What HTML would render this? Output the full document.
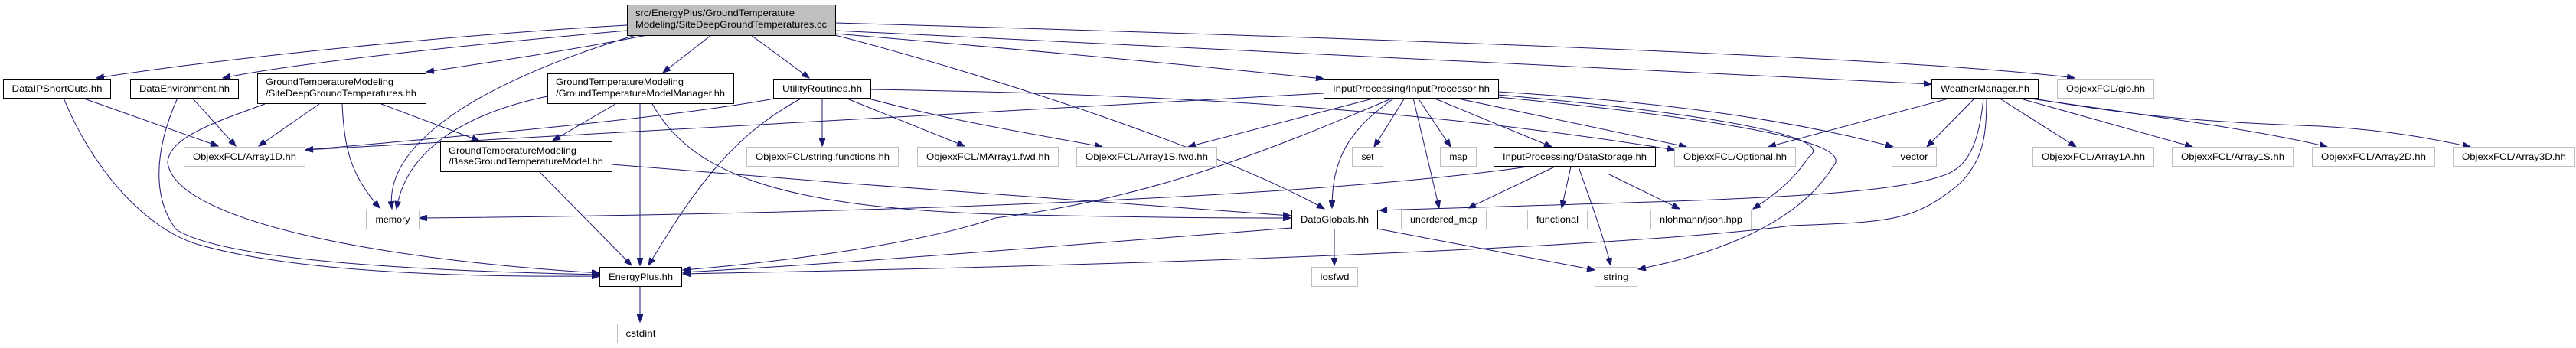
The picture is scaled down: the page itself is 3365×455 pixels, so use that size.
<!DOCTYPE html>
<html><head><meta charset="utf-8"><style>
html,body{margin:0;padding:0;background:#fff;}
svg{display:block;}
text{font-family:"Liberation Sans",Helvetica,sans-serif;font-size:12px;fill:#000;}
.n{fill:#fff;stroke:#000;stroke-width:1;}
.g{fill:#fff;stroke:#bfbfbf;stroke-width:1;}
.e{fill:none;stroke:#191970;stroke-width:1;}
</style></head><body>
<svg width="3365" height="455" viewBox="0 0 3365 455" xmlns="http://www.w3.org/2000/svg">
<defs>
<marker id="a" markerWidth="11" markerHeight="8" refX="10" refY="4" orient="auto" markerUnits="userSpaceOnUse">
<path d="M0,0 L10,4 L0,8 Z" fill="#191970" stroke="#191970"/>
</marker>
</defs>
<g class="e" marker-end="url(#a)">
<!-- root -->
<path d="M819,33 C600,45 300,75 126,102"/>
<path d="M819,40 C650,55 400,80 291,102"/>
<path d="M845,46 C750,65 650,80 557,94"/>
<path d="M830,46 C650,100 500,180 512,273"/>
<path d="M929,46 L866,95"/>
<path d="M981,46 L1057,102"/>
<path d="M1091,44 C1400,70 1600,90 1729,103"/>
<path d="M1091,40 C1700,70 2300,100 2523,110"/>
<path d="M1091,30 C1800,50 2500,75 2710,102"/>
<path d="M1091,46 C1300,100 1600,200 1730,273"/>
<!-- DataIPShortCuts -->
<path d="M107,128 L285,191"/>
<path d="M83,128 C120,220 190,300 260,320 C400,360 650,362 783,361"/>
<!-- DataEnvironment -->
<path d="M251,128 L308,191"/>
<path d="M232,128 C200,200 200,260 230,300 C300,345 600,355 783,359"/>
<!-- SiteDeep.hh -->
<path d="M417,136 L338,191"/>
<path d="M447,136 C450,200 460,230 496,272"/>
<path d="M498,136 L626,184"/>
<path d="M346,136 C280,160 220,180 219,213 C230,290 500,340 783,357"/>
<!-- GTMManager -->
<path d="M804,136 L722,184"/>
<path d="M836,136 L836,347"/>
<path d="M715,126 C600,150 530,200 518,273"/>
<path d="M852,136 C900,220 1000,270 1300,280 C1500,285 1650,285 1686,285"/>
<!-- Base -->
<path d="M704,224 L825,347"/>
<path d="M799,215 C1100,240 1500,270 1686,282"/>
<!-- Utility -->
<path d="M1017,128 C900,150 700,170 399,196"/>
<path d="M1048,128 C950,180 900,260 847,347"/>
<path d="M1074,128 L1074,191"/>
<path d="M1104,128 L1260,191"/>
<path d="M1131,128 C1250,160 1350,175 1440,192"/>
<path d="M1137,117 C1600,124 1900,150 2188,196"/>
<!-- InputProcessor -->
<path d="M1729,122 C1400,137 1000,160 399,196"/>
<path d="M1797,128 L1552,192"/>
<path d="M1820,128 C1650,200 1500,260 1300,285 C1200,320 1000,345 892,353"/>
<path d="M1822,128 C1760,170 1740,210 1740,272"/>
<path d="M1835,128 L1795,192"/>
<path d="M1846,128 L1880,272"/>
<path d="M1852,128 L1895,192"/>
<path d="M1872,128 L2027,192"/>
<path d="M1900,128 L2203,192"/>
<path d="M1957,120 C2200,135 2350,160 2473,192"/>
<path d="M1957,124 C2250,150 2400,180 2363,205 C2340,240 2310,260 2290,273"/>
<path d="M1957,127 C2300,160 2420,190 2395,217 C2350,290 2250,330 2140,352"/>
<!-- DataStorage -->
<path d="M1996,218 C1700,260 1100,280 548,285"/>
<path d="M2031,218 L1918,272"/>
<path d="M2052,218 L2040,272"/>
<path d="M2062,218 C2080,270 2095,310 2104,347"/>
<path d="M2100,227 L2194,273"/>
<!-- DataGlobals -->
<path d="M1687,298 C1400,320 1100,345 892,356"/>
<path d="M1743,299 L1743,347"/>
<path d="M1799,299 L2083,353"/>
<!-- WeatherManager -->
<path d="M2549,128 L2310,192"/>
<path d="M2580,128 L2517,192"/>
<path d="M2591,128 C2585,190 2570,220 2537,230 C2450,260 2200,262 1802,275"/>
<path d="M2595,128 C2595,180 2590,210 2560,240 C2500,290 2470,290 2340,295 C2150,320 1600,345 892,358"/>
<path d="M2611,128 L2712,192"/>
<path d="M2636,128 L2864,192"/>
<path d="M2638,127 C2800,150 2950,170 3040,192"/>
<path d="M2640,126 C2800,155 2900,160 3030,165 C3120,170 3180,182 3227,192"/>
<!-- EnergyPlus -->
<path d="M836,374 L836,421"/>
</g>
<!-- nodes -->
<rect x="819.5" y="6.5" width="272" height="40" fill="#bfbfbf" stroke="#000"/>
<text x="830" y="21" textLength="208" lengthAdjust="spacingAndGlyphs">src/EnergyPlus/GroundTemperature</text>
<text x="830" y="36" textLength="250" lengthAdjust="spacingAndGlyphs">Modeling/SiteDeepGroundTemperatures.cc</text>

<rect class="n" x="4.5" y="103.5" width="140" height="25"/>
<text x="74.5" y="120" text-anchor="middle" textLength="118" lengthAdjust="spacingAndGlyphs">DataIPShortCuts.hh</text>
<rect class="n" x="170.5" y="103.5" width="141" height="25"/>
<text x="241" y="120" text-anchor="middle" textLength="118" lengthAdjust="spacingAndGlyphs">DataEnvironment.hh</text>

<rect class="n" x="336.5" y="96.5" width="220" height="39"/>
<text x="347" y="111" textLength="167" lengthAdjust="spacingAndGlyphs">GroundTemperatureModeling</text>
<text x="347" y="126" textLength="197" lengthAdjust="spacingAndGlyphs">/SiteDeepGroundTemperatures.hh</text>

<rect class="n" x="715.5" y="96.5" width="243" height="39"/>
<text x="726" y="111" textLength="167" lengthAdjust="spacingAndGlyphs">GroundTemperatureModeling</text>
<text x="726" y="126" textLength="221" lengthAdjust="spacingAndGlyphs">/GroundTemperatureModelManager.hh</text>

<rect class="n" x="1010.5" y="103.5" width="127" height="25"/>
<text x="1074" y="120" text-anchor="middle" textLength="104" lengthAdjust="spacingAndGlyphs">UtilityRoutines.hh</text>

<rect class="n" x="1729.5" y="103.5" width="228" height="25"/>
<text x="1843.5" y="120" text-anchor="middle" textLength="205" lengthAdjust="spacingAndGlyphs">InputProcessing/InputProcessor.hh</text>

<rect class="n" x="2523.5" y="103.5" width="139" height="25"/>
<text x="2593" y="120" text-anchor="middle" textLength="116" lengthAdjust="spacingAndGlyphs">WeatherManager.hh</text>

<rect class="g" x="2687.5" y="103.5" width="126" height="25"/>
<text x="2750.5" y="120" text-anchor="middle" textLength="103" lengthAdjust="spacingAndGlyphs">ObjexxFCL/gio.hh</text>

<!-- row 2 -->
<rect class="g" x="240.5" y="192.5" width="158" height="25"/>
<text x="319.5" y="209" text-anchor="middle" textLength="135" lengthAdjust="spacingAndGlyphs">ObjexxFCL/Array1D.hh</text>

<rect class="n" x="575.5" y="185.5" width="224" height="39"/>
<text x="586" y="201" textLength="167" lengthAdjust="spacingAndGlyphs">GroundTemperatureModeling</text>
<text x="586" y="215" textLength="202" lengthAdjust="spacingAndGlyphs">/BaseGroundTemperatureModel.hh</text>

<rect class="g" x="975.5" y="192.5" width="198" height="25"/>
<text x="1074.5" y="209" text-anchor="middle" textLength="175" lengthAdjust="spacingAndGlyphs">ObjexxFCL/string.functions.hh</text>
<rect class="g" x="1198.5" y="192.5" width="184" height="25"/>
<text x="1290.5" y="209" text-anchor="middle" textLength="161" lengthAdjust="spacingAndGlyphs">ObjexxFCL/MArray1.fwd.hh</text>
<rect class="g" x="1406.5" y="192.5" width="183" height="25"/>
<text x="1498" y="209" text-anchor="middle" textLength="160" lengthAdjust="spacingAndGlyphs">ObjexxFCL/Array1S.fwd.hh</text>
<rect class="g" x="1766.5" y="192.5" width="40" height="25"/>
<text x="1786.5" y="209" text-anchor="middle">set</text>
<rect class="g" x="1881.5" y="192.5" width="47" height="25"/>
<text x="1905" y="209" text-anchor="middle">map</text>
<rect class="n" x="1951.5" y="192.5" width="211" height="25"/>
<text x="2057" y="209" text-anchor="middle" textLength="188" lengthAdjust="spacingAndGlyphs">InputProcessing/DataStorage.hh</text>
<rect class="g" x="2187.5" y="192.5" width="158" height="25"/>
<text x="2266.5" y="209" text-anchor="middle" textLength="135" lengthAdjust="spacingAndGlyphs">ObjexxFCL/Optional.hh</text>
<rect class="g" x="2471.5" y="192.5" width="58" height="25"/>
<text x="2500.5" y="209" text-anchor="middle" textLength="36" lengthAdjust="spacingAndGlyphs">vector</text>
<rect class="g" x="2655.5" y="192.5" width="158" height="25"/>
<text x="2734.5" y="209" text-anchor="middle" textLength="135" lengthAdjust="spacingAndGlyphs">ObjexxFCL/Array1A.hh</text>
<rect class="g" x="2837.5" y="192.5" width="158" height="25"/>
<text x="2916.5" y="209" text-anchor="middle" textLength="135" lengthAdjust="spacingAndGlyphs">ObjexxFCL/Array1S.hh</text>
<rect class="g" x="3020.5" y="192.5" width="160" height="25"/>
<text x="3100.5" y="209" text-anchor="middle" textLength="137" lengthAdjust="spacingAndGlyphs">ObjexxFCL/Array2D.hh</text>
<rect class="g" x="3204.5" y="192.5" width="159" height="25"/>
<text x="3284" y="209" text-anchor="middle" textLength="136" lengthAdjust="spacingAndGlyphs">ObjexxFCL/Array3D.hh</text>

<!-- row 3 -->
<rect class="g" x="478.5" y="274.5" width="69" height="25"/>
<text x="513" y="291" text-anchor="middle" textLength="45" lengthAdjust="spacingAndGlyphs">memory</text>
<rect class="n" x="1687.5" y="274.5" width="112" height="25"/>
<text x="1743.5" y="291" text-anchor="middle" textLength="89" lengthAdjust="spacingAndGlyphs">DataGlobals.hh</text>
<rect class="g" x="1830.5" y="274.5" width="111" height="25"/>
<text x="1886" y="291" text-anchor="middle" textLength="88" lengthAdjust="spacingAndGlyphs">unordered_map</text>
<rect class="g" x="1995.5" y="274.5" width="78" height="25"/>
<text x="2034.5" y="291" text-anchor="middle" textLength="55" lengthAdjust="spacingAndGlyphs">functional</text>
<rect class="g" x="2156.5" y="274.5" width="131" height="25"/>
<text x="2222" y="291" text-anchor="middle" textLength="108" lengthAdjust="spacingAndGlyphs">nlohmann/json.hpp</text>

<!-- row 4 -->
<rect class="n" x="783.5" y="349.5" width="107" height="25"/>
<text x="837" y="366" text-anchor="middle" textLength="84" lengthAdjust="spacingAndGlyphs">EnergyPlus.hh</text>
<rect class="g" x="1713.5" y="349.5" width="60" height="25"/>
<text x="1743.5" y="366" text-anchor="middle" textLength="38" lengthAdjust="spacingAndGlyphs">iosfwd</text>
<rect class="g" x="2083.5" y="349.5" width="55" height="25"/>
<text x="2111" y="366" text-anchor="middle" textLength="33" lengthAdjust="spacingAndGlyphs">string</text>

<!-- row 5 -->
<rect class="g" x="806.5" y="423.5" width="61" height="25"/>
<text x="837" y="440" text-anchor="middle" textLength="39" lengthAdjust="spacingAndGlyphs">cstdint</text>
</svg>
</body></html>
